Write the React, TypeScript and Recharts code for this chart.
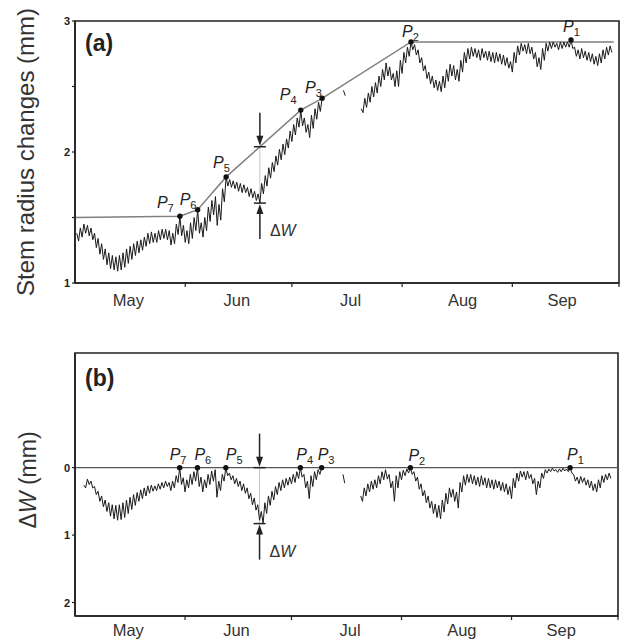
import { ComposedChart, Line, XAxis, YAxis, ReferenceArea, ReferenceLine, ReferenceDot } from 'recharts'

const FONT = '"Liberation Sans", Arial, Helvetica, sans-serif'
const INK = '#222'

// x is day of year: 121 = 1 May ... 274 = 1 Oct
const monthStarts = [152, 182, 213, 244, 274]
const monthMids = [136, 166.5, 198.5, 230, 258]
const monthNames = ['May', 'Jun', 'Jul', 'Aug', 'Sep']

// half-day samples: each row is one day, [morning max, afternoon min]
const radiusStart = 121.5
const radiusA: (number | null)[] = [
  1.38, 1.32, 1.42, 1.35, 1.45, 1.38, 1.44, 1.36, 1.42, 1.33, // 121-125
  1.38, 1.27, 1.34, 1.22, 1.30, 1.18, 1.26, 1.14, 1.23, 1.11, // 126-130
  1.21, 1.10, 1.20, 1.09, 1.21, 1.10, 1.23, 1.12, 1.26, 1.15, // 131-135
  1.28, 1.18, 1.30, 1.21, 1.32, 1.23, 1.33, 1.25, 1.35, 1.28, // 136-140
  1.38, 1.30, 1.39, 1.31, 1.38, 1.31, 1.40, 1.33, 1.41, 1.34, // 141-145
  1.41, 1.33, 1.40, 1.29, 1.38, 1.30, 1.45, 1.37, 1.51, 1.36, // 146-150
  1.44, 1.31, 1.40, 1.30, 1.46, 1.34, 1.50, 1.40, 1.56, 1.38, // 151-155
  1.46, 1.35, 1.50, 1.40, 1.58, 1.47, 1.63, 1.52, 1.66, 1.44, // 156-160
  1.60, 1.48, 1.72, 1.62, 1.81, 1.74, 1.79, 1.73, 1.78, 1.72, // 161-165
  1.77, 1.70, 1.76, 1.69, 1.75, 1.69, 1.73, 1.66, 1.72, 1.65, // 166-170
  1.70, 1.63, 1.68, 1.61, 1.76, 1.68, 1.82, 1.74, 1.88, 1.80, // 171-175
  1.92, 1.85, 1.97, 1.90, 2.02, 1.94, 2.06, 1.98, 2.10, 2.03, // 176-180
  2.16, 2.08, 2.21, 2.13, 2.26, 2.19, 2.32, 2.20, 2.26, 2.15, // 181-185
  2.21, 2.11, 2.28, 2.18, 2.33, 2.25, 2.38, 2.31, 2.41, null, // 186-190
  null, null, null, null, null, null, null, null, null, null, // 191-195
  2.47, 2.43, null, null, null, null, null, null, null, null, // 196-200
  2.33, 2.30, 2.41, 2.34, 2.45, 2.38, 2.50, 2.42, 2.53, 2.45, // 201-205
  2.58, 2.50, 2.63, 2.55, 2.68, 2.58, 2.65, 2.55, 2.60, 2.50, // 206-210
  2.62, 2.50, 2.70, 2.60, 2.76, 2.68, 2.80, 2.73, 2.84, 2.78, // 211-215
  2.82, 2.74, 2.78, 2.68, 2.72, 2.62, 2.66, 2.56, 2.61, 2.52, // 216-220
  2.58, 2.49, 2.55, 2.47, 2.54, 2.46, 2.58, 2.49, 2.63, 2.54, // 221-225
  2.67, 2.58, 2.66, 2.55, 2.63, 2.54, 2.70, 2.61, 2.76, 2.68, // 226-230
  2.79, 2.71, 2.80, 2.73, 2.79, 2.72, 2.78, 2.70, 2.79, 2.72, // 231-235
  2.77, 2.70, 2.77, 2.69, 2.76, 2.68, 2.76, 2.69, 2.75, 2.67, // 236-240
  2.74, 2.66, 2.72, 2.64, 2.69, 2.61, 2.76, 2.68, 2.81, 2.74, // 241-245
  2.83, 2.77, 2.82, 2.75, 2.83, 2.75, 2.80, 2.71, 2.76, 2.65, // 246-250
  2.72, 2.63, 2.79, 2.70, 2.83, 2.77, 2.84, 2.79, 2.84, 2.80, // 251-255
  2.83, 2.78, 2.84, 2.79, 2.84, 2.80, 2.84, 2.80, 2.855, 2.79, // 256-260
  2.80, 2.73, 2.78, 2.71, 2.79, 2.72, 2.77, 2.70, 2.76, 2.69, // 261-265
  2.75, 2.67, 2.73, 2.66, 2.75, 2.68, 2.78, 2.71, 2.80, 2.74, // 266-270
  2.81, 2.76, // 271
]

const deficitStart = 123.5
const deficitB: (number | null)[] = [
  0.26, 0.30, 0.17, 0.25, 0.20, 0.30, 0.28, 0.40, 0.35, 0.50, // 123-127
  0.42, 0.58, 0.48, 0.65, 0.52, 0.72, 0.55, 0.76, 0.56, 0.78, // 128-132
  0.55, 0.77, 0.52, 0.74, 0.48, 0.68, 0.44, 0.62, 0.40, 0.56, // 133-137
  0.37, 0.50, 0.33, 0.46, 0.30, 0.42, 0.27, 0.38, 0.26, 0.35, // 138-142
  0.27, 0.34, 0.24, 0.32, 0.22, 0.30, 0.20, 0.28, 0.22, 0.34, // 143-147
  0.20, 0.30, 0.12, 0.22, 0.00, 0.25, 0.15, 0.36, 0.18, 0.30, // 148-152
  0.10, 0.25, 0.06, 0.20, 0.00, 0.28, 0.14, 0.36, 0.18, 0.30, // 153-157
  0.10, 0.25, 0.05, 0.20, 0.03, 0.44, 0.20, 0.34, 0.10, 0.20, // 158-162
  0.00, 0.12, 0.08, 0.18, 0.12, 0.24, 0.16, 0.28, 0.20, 0.34, // 163-167
  0.24, 0.38, 0.30, 0.46, 0.38, 0.55, 0.45, 0.63, 0.55, 0.78, // 168-172
  0.65, 0.83, 0.52, 0.68, 0.42, 0.56, 0.35, 0.48, 0.28, 0.40, // 173-177
  0.22, 0.34, 0.18, 0.30, 0.16, 0.26, 0.14, 0.24, 0.10, 0.22, // 178-182
  0.06, 0.16, 0.00, 0.14, 0.10, 0.30, 0.20, 0.46, 0.12, 0.28, // 183-187
  0.06, 0.18, 0.03, 0.10, 0.00, null, null, null, null, null, // 188-192
  null, null, null, null, null, null, 0.10, 0.23, null, null, // 193-197
  null, null, null, null, null, null, 0.42, 0.50, 0.30, 0.42, // 198-202
  0.24, 0.36, 0.20, 0.32, 0.18, 0.30, 0.12, 0.24, 0.06, 0.18, // 203-207
  0.03, 0.17, 0.10, 0.30, 0.20, 0.50, 0.12, 0.30, 0.06, 0.18, // 208-212
  0.04, 0.12, 0.02, 0.08, 0.00, 0.10, 0.06, 0.20, 0.14, 0.32, // 213-217
  0.24, 0.42, 0.34, 0.52, 0.42, 0.60, 0.50, 0.68, 0.54, 0.74, // 218-222
  0.56, 0.76, 0.48, 0.66, 0.38, 0.54, 0.30, 0.44, 0.32, 0.50, // 223-227
  0.36, 0.60, 0.22, 0.36, 0.12, 0.26, 0.10, 0.22, 0.10, 0.24, // 228-232
  0.12, 0.26, 0.14, 0.28, 0.12, 0.26, 0.15, 0.30, 0.16, 0.30, // 233-237
  0.18, 0.32, 0.18, 0.30, 0.20, 0.34, 0.22, 0.36, 0.24, 0.40, // 238-242
  0.28, 0.46, 0.16, 0.30, 0.08, 0.20, 0.05, 0.14, 0.06, 0.18, // 243-247
  0.05, 0.16, 0.10, 0.24, 0.16, 0.40, 0.20, 0.30, 0.08, 0.16, // 248-252
  0.03, 0.08, 0.02, 0.06, 0.01, 0.05, 0.03, 0.07, 0.02, 0.06, // 253-257
  0.01, 0.05, 0.02, 0.06, 0.00, 0.08, 0.10, 0.20, 0.14, 0.24, // 258-262
  0.13, 0.22, 0.15, 0.26, 0.18, 0.30, 0.20, 0.34, 0.24, 0.36, // 263-267
  0.18, 0.30, 0.12, 0.22, 0.10, 0.18, 0.08, 0.16, // 268-271
]

// growth line through the peaks
const envelopeDays = [121, 150.5, 155.5, 163.5, 184.5, 190.5, 215.5, 272.5]
const envelopeA = [1.5, 1.51, 1.56, 1.81, 2.32, 2.41, 2.84, 2.84]

const peakNames = ['7', '6', '5', '4', '3', '2', '1']
const peakDays = [150.5, 155.5, 163.5, 184.5, 190.5, 215.5, 260.5]
const peakRadiusA = [1.51, 1.56, 1.81, 2.32, 2.41, 2.84, 2.855]
const peakDeficitB = [0, 0, 0, 0, 0, 0, 0]

// the ΔW example marked with arrows
const markDay = 173
const markA = [2.04, 1.61]
const markB = [0, 0.83]

// label offsets from each dot, px
const NUDGE_A = [[-23, -8], [-18, -5], [-13, -9], [-21, -10], [-17, -5], [-9, -5], [-8, -8]]
const NUDGE_B = [[-10, -8], [-3, -8], [0, -8], [-4, -8], [-4, -8], [-2, -7], [-3, -8]]

const toPoints = (start: number, vals: (number | null)[]) =>
  vals.map((v, i) => ({ t: start + i * 0.5, v }))

const seriesA = toPoints(radiusStart, radiusA)
const seriesB = toPoints(deficitStart, deficitB)
const envA = envelopeDays.map((t, i) => ({ t, v: envelopeA[i] }))
const peaksA = peakDays.map((t, i) => ({ t, v: peakRadiusA[i], name: peakNames[i] }))
const peaksB = peakDays.map((t, i) => ({ t, v: peakDeficitB[i], name: peakNames[i] }))

const xTicks = [...monthStarts, ...monthMids].sort((a, b) => a - b)

function MonthTick({ x, y, payload, labelDy }: any) {
  const v = payload.value
  if (monthStarts.includes(v)) {
    return <line x1={x} x2={x} y1={y} y2={y + 4} stroke={INK} strokeWidth={1.2} />
  }
  const j = monthMids.indexOf(v)
  return (
    <text x={x} y={y + labelDy} textAnchor="middle" fontSize={16.5} fill="#333" fontFamily={FONT}>
      {monthNames[j]}
    </text>
  )
}

function ValueTick({ x, y, payload }: any) {
  const v = payload.value
  return (
    <g>
      <line x1={x - 3} x2={x} y1={y} y2={y} stroke={INK} strokeWidth={1.2} />
      {Number.isInteger(v) && (
        <text x={x - 5} y={y + 4} textAnchor="end" fontSize={11} fontWeight="bold" fill={INK} fontFamily={FONT}>
          {v}
        </text>
      )}
    </g>
  )
}

const peakDot = (nudge: number[][]) => (props: any) => {
  const { cx, cy, index, payload } = props
  if (cx == null || cy == null) return <g key={index} />
  const [dx, dy] = nudge[index]
  return (
    <g key={index}>
      <circle cx={cx} cy={cy} r={2.7} fill="#111" />
      <text x={cx + dx} y={cy + dy} fontSize={16} fontStyle="italic" fill={INK} fontFamily={FONT}>
        P
        <tspan fontSize={11} fontStyle="normal" dy={4}>{payload.name}</tspan>
      </text>
    </g>
  )
}

function ArrowDown({ cx, cy }: any) {
  return (
    <g>
      <line x1={cx} x2={cx} y1={cy - 34} y2={cy - 8} stroke={INK} strokeWidth={1.5} />
      <path d={`M${cx - 3.5},${cy - 11} L${cx + 3.5},${cy - 11} L${cx},${cy - 1} Z`} fill={INK} />
      <line x1={cx - 6} x2={cx + 6} y1={cy} y2={cy} stroke={INK} strokeWidth={1.5} />
    </g>
  )
}

function ArrowUp({ cx, cy }: any) {
  return (
    <g>
      <line x1={cx - 6} x2={cx + 6} y1={cy} y2={cy} stroke={INK} strokeWidth={1.5} />
      <path d={`M${cx - 3.5},${cy + 11} L${cx + 3.5},${cy + 11} L${cx},${cy + 1} Z`} fill={INK} />
      <line x1={cx} x2={cx} y1={cy + 8} y2={cy + 36} stroke={INK} strokeWidth={1.5} />
      <text x={cx + 10} y={cy + 33} fontSize={16} fill="#333" fontFamily={FONT}>
        Δ<tspan fontStyle="italic">W</tspan>
      </text>
    </g>
  )
}

function Panel({ height, top, right, xHeight, labelDy, yDomain, yTicks, reversed, series, envelope, peaks, nudge, mark, zeroLine }: any) {
  return (
    <ComposedChart width={625} height={height} margin={{ top, right, bottom: 0, left: 0 }}>
      <XAxis
        dataKey="t"
        type="number"
        domain={[121, 274]}
        ticks={xTicks}
        interval={0}
        tickSize={0}
        tickMargin={0}
        tickLine={false}
        tick={<MonthTick labelDy={labelDy} />}
        height={xHeight}
        axisLine={{ stroke: INK, strokeWidth: 1.6 }}
      />
      <YAxis
        dataKey="v"
        type="number"
        domain={yDomain}
        ticks={yTicks}
        interval={0}
        reversed={reversed}
        tickSize={0}
        tickMargin={0}
        tickLine={false}
        tick={<ValueTick />}
        width={75}
        axisLine={{ stroke: INK, strokeWidth: 1.6 }}
      />
      <ReferenceArea x1={121} x2={274} y1={yDomain[0]} y2={yDomain[1]} fill="none" stroke={INK} strokeWidth={1.6} />
      {zeroLine && <ReferenceLine y={0} stroke="#555" strokeWidth={1.2} />}
      <ReferenceLine segment={[{ x: markDay, y: mark[0] }, { x: markDay, y: mark[1] }]} stroke="#c4c4c4" strokeWidth={1} />
      {envelope && (
        <Line data={envelope} dataKey="v" stroke="#808080" strokeWidth={1.5} dot={false} isAnimationActive={false} />
      )}
      <Line data={series} dataKey="v" stroke="#1a1a1a" strokeWidth={1} dot={false} connectNulls={false} isAnimationActive={false} />
      <Line data={peaks} dataKey="v" stroke="none" dot={peakDot(nudge)} isAnimationActive={false} />
      <ReferenceDot x={markDay} y={mark[0]} shape={<ArrowDown />} />
      <ReferenceDot x={markDay} y={mark[1]} shape={<ArrowUp />} />
    </ComposedChart>
  )
}

export default function App() {
  return (
    <div style={{ position: 'absolute', left: 0, top: 0, width: 625, height: 643, background: '#fff', fontFamily: FONT }}>
      <div style={{ position: 'absolute', left: 0, top: 0 }}>
        <Panel
          height={320}
          top={21}
          right={6}
          xHeight={37}
          labelDy={23}
          yDomain={[1, 3]}
          yTicks={[1, 1.5, 2, 2.5, 3]}
          reversed={false}
          series={seriesA}
          envelope={envA}
          peaks={peaksA}
          nudge={NUDGE_A}
          mark={markA}
          zeroLine={false}
        />
      </div>
      <div style={{ position: 'absolute', left: 0, top: 320 }}>
        <Panel
          height={323}
          top={33}
          right={7}
          xHeight={27}
          labelDy={20}
          yDomain={[-1.7, 2.2]}
          yTicks={[0, 1, 2]}
          reversed={true}
          series={seriesB}
          envelope={null}
          peaks={peaksB}
          nudge={NUDGE_B}
          mark={markB}
          zeroLine={true}
        />
      </div>
      <svg width={625} height={643} style={{ position: 'absolute', left: 0, top: 0, pointerEvents: 'none' }}>
        <text x={85} y={51} fontSize={23} fontWeight="bold" fill={INK} fontFamily={FONT}>(a)</text>
        <text x={85} y={386} fontSize={23} fontWeight="bold" fill={INK} fontFamily={FONT}>(b)</text>
        <text transform="translate(34,152) rotate(-90)" textAnchor="middle" fontSize={24} fill="#333" fontFamily={FONT}>
          Stem radius changes (mm)
        </text>
        <text transform="translate(36,480) rotate(-90)" textAnchor="middle" fontSize={23} fill="#333" fontFamily={FONT}>
          Δ<tspan fontStyle="italic">W</tspan> (mm)
        </text>
      </svg>
    </div>
  )
}
